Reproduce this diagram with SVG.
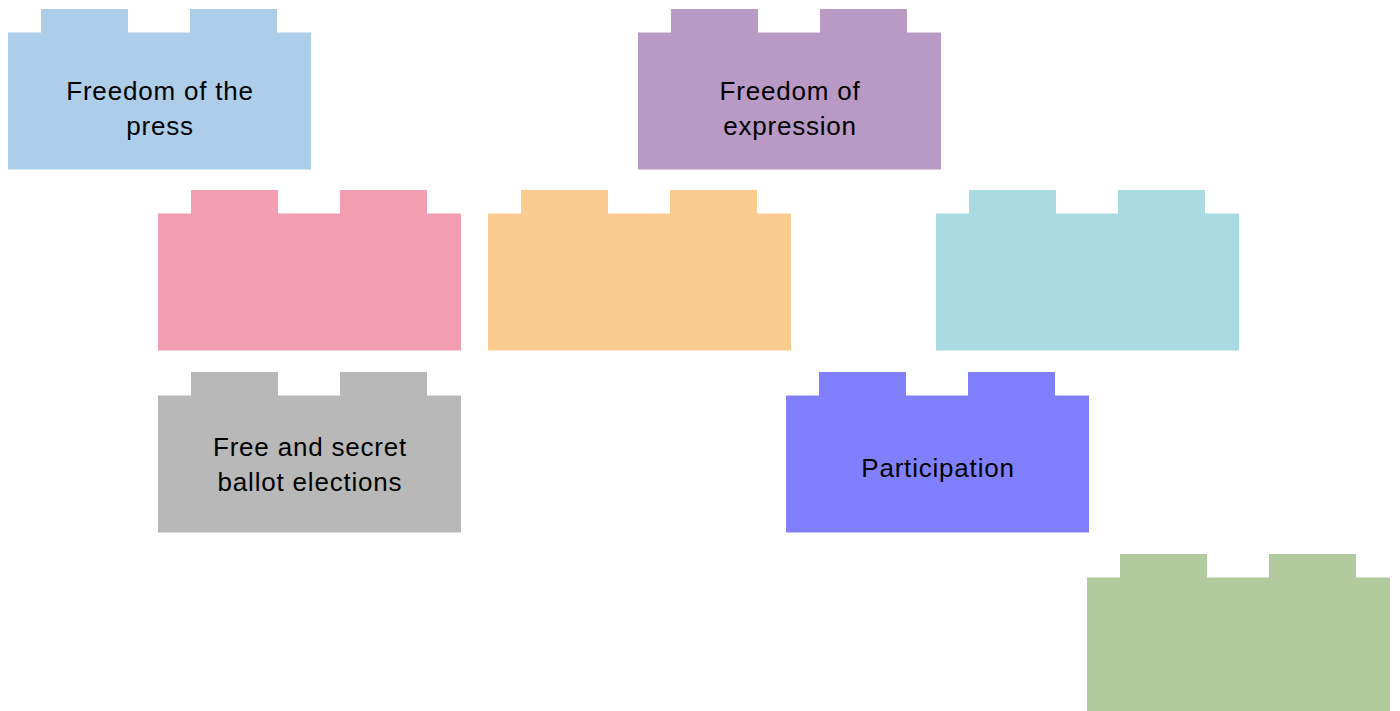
<svg xmlns="http://www.w3.org/2000/svg" xmlns:xlink="http://www.w3.org/1999/xlink" width="1400" height="711" viewBox="0 0 1400 711">
<style>
text { font-family: "Liberation Sans", Arial, Helvetica, sans-serif; font-size: 26px; fill: #000; text-anchor: middle; letter-spacing: 0.8px; }
</style>
<defs>
<path id="brick" d="M33,0 H120 V23.5 H182 V0 H269 V23.5 H303 V160.5 H0 V23.5 H33 Z"/>
</defs>
<rect width="1400" height="711" fill="#ffffff"/>
<g id="connectors"></g>
<g id="node-press">
<use xlink:href="#brick" href="#brick" x="8" y="9" fill="#aecde9"/>
<text x="160" y="100">Freedom of the</text>
<text x="160" y="135">press</text>
</g>
<g id="node-expression">
<use xlink:href="#brick" href="#brick" x="638" y="9" fill="#b89ac5"/>
<text x="790" y="100">Freedom of</text>
<text x="790" y="135">expression</text>
</g>
<g id="node-pink">
<use xlink:href="#brick" href="#brick" x="158" y="190" fill="#f29db1"/>
</g>
<g id="node-orange">
<use xlink:href="#brick" href="#brick" x="488" y="190" fill="#fbcb8f"/>
</g>
<g id="node-teal">
<use xlink:href="#brick" href="#brick" x="936" y="190" fill="#aadbe2"/>
</g>
<g id="node-elections">
<use xlink:href="#brick" href="#brick" x="158" y="372" fill="#b8b8b8"/>
<text x="310" y="456">Free and secret</text>
<text x="310" y="491">ballot elections</text>
</g>
<g id="node-participation">
<use xlink:href="#brick" href="#brick" x="786" y="372" fill="#8080ff"/>
<text x="938" y="477">Participation</text>
</g>
<g id="node-green">
<use xlink:href="#brick" href="#brick" x="1087" y="554" fill="#b1cb9f"/>
</g>
</svg>
